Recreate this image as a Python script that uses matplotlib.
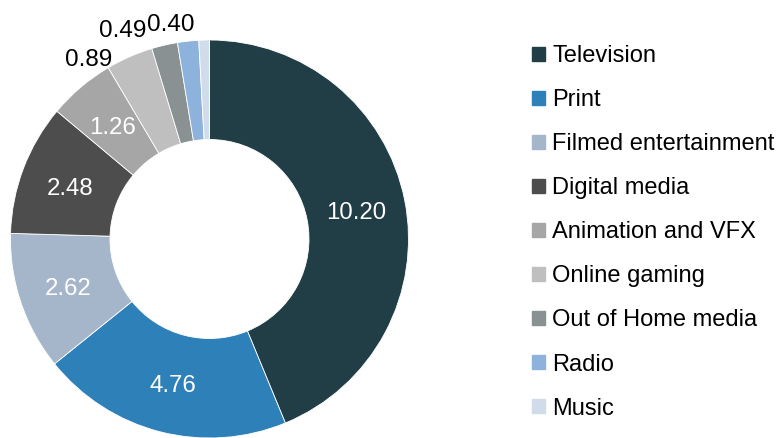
import matplotlib
matplotlib.use("Agg")
import matplotlib.pyplot as plt
import numpy as np

categories = ["Television", "Print", "Filmed entertainment", "Digital media",
              "Animation and VFX", "Online gaming", "Out of Home media", "Radio", "Music"]
values = [10.20, 4.76, 2.62, 2.48, 1.26, 0.89, 0.49, 0.40, 0.20]
labels = ["10.20", "4.76", "2.62", "2.48", "1.26", "0.89", "0.49", "0.40", ""]
colors = ["#213d45", "#2e80b9", "#a6b6ca", "#4d4d4d", "#a6a6a6",
          "#bfbfbf", "#899193", "#8db3dd", "#d0dcea"]

plt.rcParams['font.family'] = ['Liberation Sans', 'DejaVu Sans']

W, H = 780, 438
fig = plt.figure(figsize=(W / 100, H / 100), dpi=100)
R = 199
cx, cy = 209.5, 239
ax = fig.add_axes([(cx - R) / W, (H - cy - R) / H, 2 * R / W, 2 * R / H])
ax.axis('off')

wedges, _ = ax.pie(values, colors=colors, startangle=90, counterclock=False,
                   radius=1.0, wedgeprops=dict(width=0.5, edgecolor='white', linewidth=0.6))
ax.set_xlim(-1, 1)
ax.set_ylim(-1, 1)
ax.set_aspect('equal')

# label placement style: outside labels with pixel offsets
outside_style = {5: (1.09, (-34, -17)), 6: (1.13, (-36, -9)), 7: (1.10, (-15, -1))}
for i, (w, lab) in enumerate(zip(wedges, labels)):
    if not lab:
        continue
    ang = np.deg2rad((w.theta1 + w.theta2) / 2)
    if i in outside_style:
        r, off = outside_style[i]
        ax.annotate(lab, (r * np.cos(ang), r * np.sin(ang)), xytext=off,
                    textcoords='offset pixels', ha='center', va='center_baseline',
                    fontsize=17.5, color='black', annotation_clip=False)
    else:
        ax.text(0.75 * np.cos(ang), 0.75 * np.sin(ang), lab, ha='center',
                va='center_baseline', fontsize=17.3, color='white')

handles = [plt.Rectangle((0, 0), 1, 1, color=c) for c in colors]
leg = fig.legend(handles, categories, loc='upper left', bbox_to_anchor=(532 / W, 1 - 45 / H),
                 frameon=False, fontsize=17, handlelength=0.55, handleheight=0.55,
                 handletextpad=0.3, labelspacing=0.935, borderaxespad=0, borderpad=0)

fig.savefig("out.png", dpi=100)
